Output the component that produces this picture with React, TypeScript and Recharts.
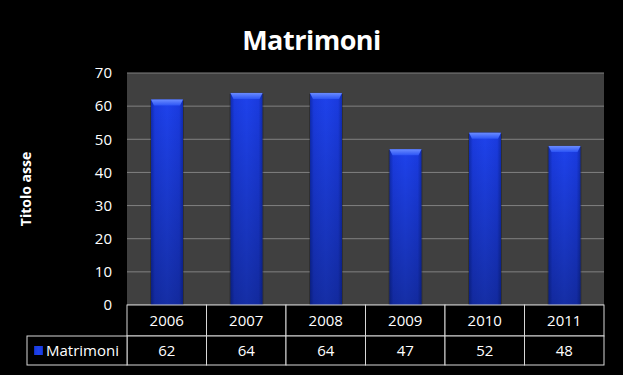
import React from "react";
import { BarChart, Bar, XAxis, YAxis, CartesianGrid, Label } from "recharts";

const categories = ["2006", "2007", "2008", "2009", "2010", "2011"];
const matrimoni = [62, 64, 64, 47, 52, 48];
const yTicks = [0, 10, 20, 30, 40, 50, 60, 70];
const seriesName = "Matrimoni";
const titleText = "Matrimoni";
const yAxisTitle = "Titolo asse";

const data = categories.map((c, i) => ({ year: c, value: matrimoni[i] }));

const W = 623;
const H = 375;
const M = { top: 73, right: 19, left: 0, bottom: 0 };
const Y_W = 127;
const X_H = 70;
const PLOT_W = W - M.right - Y_W;
const BAND = PLOT_W / categories.length;
const ROW_H = 31;
const LEGEND_W = 100;
const FONT = "'Open Sans', 'DejaVu Sans', sans-serif";
const BORDER = "#d8d8d8";

const BarShape = (props: any) => {
  const { x, y, width, height } = props;
  if (!height || height <= 0) return null;
  const cap = 6;
  return (
    <g>
      <rect x={x - 1} y={y + 1} width={width + 2} height={height - 1} fill="#000" opacity={0.25} />
      <rect x={x} y={y} width={width} height={height} fill="url(#barBody)" />
      <rect x={x} y={y} width={width} height={height} fill="url(#barShade)" />
      <polygon
        points={`${x},${y} ${x + width},${y} ${x + width - 3},${y + cap} ${x + 3},${y + cap}`}
        fill="url(#barCap)"
      />
    </g>
  );
};

const TableTick = (props: any) => {
  const { x, y, payload, index } = props;
  const left = x - BAND / 2;
  const val = matrimoni[index];
  return (
    <g>
      <rect x={left} y={y} width={BAND} height={ROW_H} fill="#000" stroke={BORDER} strokeWidth={1} />
      <rect x={left} y={y + ROW_H} width={BAND} height={ROW_H - 2} fill="#000" stroke={BORDER} strokeWidth={1} />
      <text x={x} y={y + 21} textAnchor="middle" fill="#fff" fontSize={15} fontFamily={FONT}>
        {payload.value}
      </text>
      <text x={x} y={y + ROW_H + 20} textAnchor="middle" fill="#fff" fontSize={15} fontFamily={FONT}>
        {val}
      </text>
      {index === 0 && (
        <g>
          <rect x={left - LEGEND_W} y={y + ROW_H} width={LEGEND_W} height={ROW_H - 2} fill="#000" stroke={BORDER} strokeWidth={1} />
          <rect x={left - LEGEND_W + 7} y={y + ROW_H + 10} width={9} height={9} fill="url(#barBody)" />
          <text x={left - LEGEND_W + 19} y={y + ROW_H + 20} fill="#fff" fontSize={15} fontFamily={FONT}>
            {seriesName}
          </text>
        </g>
      )}
    </g>
  );
};

export default function App() {
  return (
    <div style={{ position: "absolute", left: 0, top: 0, width: W, height: H, background: "#000" }}>
      <BarChart width={W} height={H} data={data} margin={M} barCategoryGap={0}>
        <defs>
          <linearGradient id="barBody" x1="0" y1="0" x2="1" y2="0">
            <stop offset="0%" stopColor="#0f2bb0" />
            <stop offset="12%" stopColor="#1a3be0" />
            <stop offset="50%" stopColor="#1e42ec" />
            <stop offset="88%" stopColor="#1a3be0" />
            <stop offset="100%" stopColor="#0f2bb0" />
          </linearGradient>
          <linearGradient id="barShade" x1="0" y1="0" x2="0" y2="1">
            <stop offset="0%" stopColor="#000" stopOpacity={0} />
            <stop offset="100%" stopColor="#000" stopOpacity={0.3} />
          </linearGradient>
          <linearGradient id="barCap" x1="0" y1="0" x2="0" y2="1">
            <stop offset="0%" stopColor="#6a8cff" />
            <stop offset="100%" stopColor="#2d55f5" />
          </linearGradient>
        </defs>
        <text x={W / 2} y={50} textAnchor="middle" fill="#fff" fontSize={27} fontWeight="bold" fontFamily={FONT} letterSpacing={-0.5}>
          {titleText}
        </text>
        <CartesianGrid vertical={false} stroke="#808080" fill="#404040" fillOpacity={1} />
        <XAxis
          dataKey="year"
          axisLine={false}
          tickLine={false}
          tickSize={0}
          tickMargin={0}
          height={X_H}
          interval={0}
          tick={<TableTick />}
        />
        <YAxis
          domain={[0, 70]}
          ticks={yTicks}
          axisLine={false}
          tickLine={false}
          tickSize={0}
          tickMargin={15}
          width={Y_W}
          tick={{ fill: "#fff", fontSize: 15, fontFamily: FONT }}
        >
          <Label
            value={yAxisTitle}
            angle={-90}
            position="insideLeft"
            offset={26}
            style={{ fill: "#fff", fontSize: 14, fontWeight: "bold", fontFamily: FONT, textAnchor: "middle" }}
          />
        </YAxis>
        <Bar dataKey="value" barSize={32} shape={<BarShape />} isAnimationActive={false} />
      </BarChart>
    </div>
  );
}
